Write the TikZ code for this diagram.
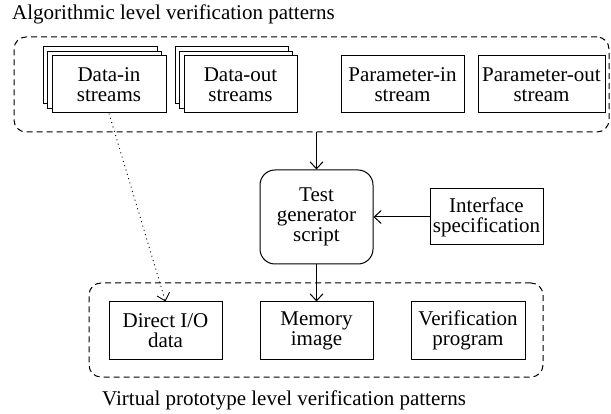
\documentclass[tikz,border=0pt]{standalone}
\usepackage{fontspec}
\setmainfont{Liberation Serif}
\usetikzlibrary{arrows.meta}
\begin{document}
\begin{tikzpicture}[x=1pt,y=-1pt,
  every node/.style={font=\fontsize{21}{20}\selectfont, inner sep=0pt},
  box/.style={draw, line width=1pt, fill=white, align=center, minimum width=#1, minimum height=57pt},
  box/.default=114pt,
  grp/.style={draw, line width=1pt, rounded corners=12pt, dash pattern=on 6pt off 4pt},
  arr/.style={line width=1pt, -{Straight Barb[length=7pt,width=13pt,line width=1pt]}},
  dotarr/.style={line width=0.9pt, dash pattern=on 1pt off 3.5pt, -{Straight Barb[length=7pt,width=13pt,line width=0.9pt]}}
]
\useasboundingbox (0,0) rectangle (611,414);

% titles
\node[anchor=base west] (ttop) at (12,20) {Algorithmic level verification patterns};
\node[anchor=base west] (tbot) at (102,405) {Virtual prototype level verification patterns};

% group frames
\node[grp, minimum width=595pt, minimum height=95pt] (gtop) at (311.5,84.5) {};
\node[grp, minimum width=454pt, minimum height=94pt] (gbot) at (316,330) {};

% data-in stack
\node[box] (din3) at (100,75.5) {};
\node[box] (din2) at (104.5,80) {};
\node[box] (din) at (109,84.5) {Data-in\\streams};

% data-out stack
\node[box=113pt] (dout3) at (231.5,75.5) {};
\node[box=113pt] (dout2) at (236,80) {};
\node[box=113pt] (dout) at (240.5,84.5) {Data-out\\streams};

% parameter streams
\node[box=123pt] (pin) at (402.5,84.5) {Parameter-in\\stream};
\node[box=127pt] (pout) at (541.5,84.5) {Parameter-out\\stream};

% test generator
\node[box=113pt, minimum height=94pt, rounded corners=15pt] (tg) at (316.5,217) {Test\\generator\\script};

% interface
\node[box=113pt, minimum height=56pt] (ifs) at (486.5,217) {Interface\\specification};

% bottom boxes
\node[box=113pt] (dio) at (165.5,330.5) {Direct I/O\\data};
\node[box=113pt] (mem) at (316.5,330.5) {Memory\\image};
\node[box=114pt] (ver) at (468,330.5) {Verification\\program};

% connectors
\draw[arr] (gtop.south -| tg.north) -- (tg.north);
\draw[arr] (ifs.west) -- (tg.east);
\draw[arr] (tg.south) -- (mem.north);
\draw[dotarr] (din.south) -- (dio.north);
\end{tikzpicture}
\end{document}
